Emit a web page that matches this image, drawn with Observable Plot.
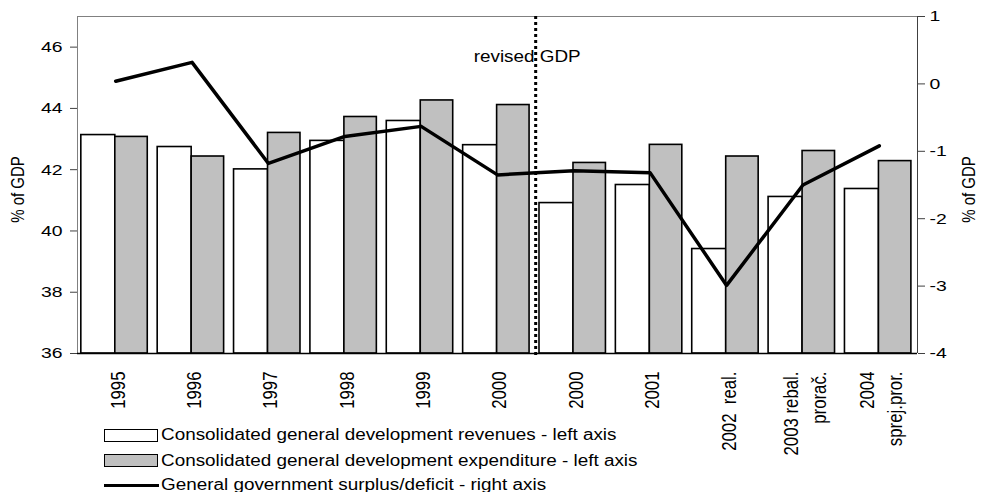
<!DOCTYPE html>
<html>
<head>
<meta charset="utf-8">
<script src="https://cdn.jsdelivr.net/npm/d3@7"></script>
<script src="https://cdn.jsdelivr.net/npm/@observablehq/plot@0.6"></script>
<style>
  html, body { margin: 0; padding: 0; background: white; }
  #wrap { position: relative; width: 983px; height: 492px; font-family: "Liberation Sans", Arial, sans-serif; }
  svg text { white-space: pre; }
  .leg { position: absolute; left: 0; top: 0; font-size: 16px; color: #000; }
  .row { position: absolute; left: 104px; height: 20px; display: flex; align-items: center; white-space: nowrap; }
  .sw { width: 54px; height: 13px; border: 1.5px solid #000; box-sizing: border-box; margin-right: 3px; flex: none; }
  .ln { width: 55px; height: 3px; background: #000; margin-right: 2px; flex: none; }
  .row span { display: inline-block; transform: scaleX(1.18); transform-origin: 0 50%; }
</style>
</head>
<body>
<div id="wrap"></div>
<script>
const labels = ["1995","1996","1997","1998","1999","2000","2000","2001","2002  real.","2003 rebal.\nprorač.","2004\nsprej.pror."];
const revenues = [43.13,42.74,42.01,42.94,43.59,42.80,40.91,41.50,39.41,41.11,41.37];
const expenditure = [43.07,42.43,43.20,43.72,44.26,44.11,42.22,42.81,42.43,42.61,42.28];
const balance = [0.04,0.32,-1.18,-0.78,-0.63,-1.35,-1.29,-1.32,-2.99,-1.50,-0.92];
const leftTicks = [36,38,40,42,44,46];
const rightTicks = [-4,-3,-2,-1,0,1];
const leftDomain = [36,47];
const rightDomain = [-4,1];
const revisedIndex = 6;
const axisTitle = "% of GDP";
const noteText = "revised GDP";
const legendLabels = [
  "Consolidated general development revenues - left axis",
  "Consolidated general development expenditure - left axis",
  "General government surplus/deficit - right axis"
];

const k = (leftDomain[1]-leftDomain[0])/(rightDomain[1]-rightDomain[0]);
const toLeft = r => leftDomain[0] + (r - rightDomain[0]) * k;
const fromLeft = v => (v - leftDomain[0]) / k + rightDomain[0];

const rows = labels.map((l,i) => ({i, label:l, rev:revenues[i], exp:expenditure[i], bal:balance[i]}));

const chart = Plot.plot({
  width: 983, height: 492,
  marginLeft: 77, marginRight: 66, marginTop: 16, marginBottom: 139,
  style: {fontFamily: "'Liberation Sans', Arial, sans-serif", fontSize: "15px", color: "#000", background: "white", overflow: "visible"},
  x: {type: "linear", domain: [0, labels.length], axis: null},
  y: {domain: leftDomain, axis: null},
  marks: [
    Plot.rect(rows, {x1: d => d.i + 0.05, x2: d => d.i + 0.495, y1: leftDomain[0], y2: "rev", fill: "white", stroke: "black", strokeWidth: 1.6}),
    Plot.rect(rows, {x1: d => d.i + 0.495, x2: d => d.i + 0.92, y1: leftDomain[0], y2: "exp", fill: "#c0c0c0", stroke: "black", strokeWidth: 1.6}),
    Plot.ruleY([leftDomain[1]], {stroke: "#808080", strokeWidth: 1}),
    Plot.ruleX([0], {stroke: "#808080", strokeWidth: 1}),
    Plot.ruleX([labels.length], {stroke: "#404040", strokeWidth: 1}),
    Plot.ruleY([leftDomain[0]], {stroke: "black", strokeWidth: 1.5}),
    Plot.ruleX([revisedIndex], {stroke: "black", strokeWidth: 3, strokeDasharray: "3,3", insetBottom: -5}),
    Plot.line(rows, {x: d => d.i + 0.5, y: d => toLeft(d.bal), stroke: "black", strokeWidth: 3.5}),
    Plot.text([noteText], {x: revisedIndex, frameAnchor: "top", lineAnchor: "middle", textAnchor: "middle", dy: 40, dx: -8.5, fontSize: 16}),
    Plot.text([axisTitle], {frameAnchor: "left", textAnchor: "middle", lineAnchor: "middle", rotate: -90, dx: -59.5, dy: 4.5, fontSize: 15}),
    Plot.text([axisTitle], {frameAnchor: "right", textAnchor: "middle", lineAnchor: "middle", rotate: -90, dx: 51, dy: 4.5, fontSize: 15}),
    Plot.axisY({anchor: "left", ticks: leftTicks, tickSize: 7, tickPadding: 8, stroke: "#404040", fontSize: 15.5, label: null}),
    Plot.axisY({anchor: "right", ticks: rightTicks.map(toLeft), tickFormat: v => String(Math.round(fromLeft(v))),
      tickSize: 7, tickPadding: 5, stroke: "#404040", fontSize: 15.5, label: null}),
    Plot.axisX({anchor: "bottom", ticks: labels.map((_, i) => i + 0.5), tickFormat: v => labels[Math.floor(v)],
      tickRotate: -90, tickSize: 0, tickPadding: 18, lineHeight: 1.33, label: null, fontSize: 16.8})
  ]
});

// horizontal stretch of glyphs (the reference text is rendered wide)
function stretchText(t, sx, sy) {
  const tr = t.getAttribute("transform") || "";
  t.setAttribute("transform", `${tr} scale(${sx},${sy})`);
}
chart.querySelectorAll('g[aria-label="y-axis tick label"] text').forEach(t => stretchText(t, 1.25, 1));
chart.querySelectorAll('g[aria-label="x-axis tick label"] text').forEach(t => stretchText(t, 1, 1.25));
chart.querySelectorAll('g[aria-label="text"] text').forEach(t => {
  if (t.textContent === noteText) stretchText(t, 1.18, 1);
  else if (t.textContent === axisTitle) stretchText(t, 1, 1.25);
});

const wrap = document.getElementById("wrap");
wrap.appendChild(chart);

const leg = document.createElement("div");
leg.className = "leg";
const tops = [425, 450.5, 475];
legendLabels.forEach((t, j) => {
  const r = document.createElement("div");
  r.className = "row";
  r.style.top = tops[j] + "px";
  const s = document.createElement("div");
  if (j === 0) { s.className = "sw"; s.style.background = "white"; }
  else if (j === 1) { s.className = "sw"; s.style.background = "#c0c0c0"; }
  else { s.className = "ln"; }
  r.appendChild(s);
  const sp = document.createElement("span");
  sp.textContent = t;
  r.appendChild(sp);
  leg.appendChild(r);
});
wrap.appendChild(leg);
</script>
</body>
</html>
